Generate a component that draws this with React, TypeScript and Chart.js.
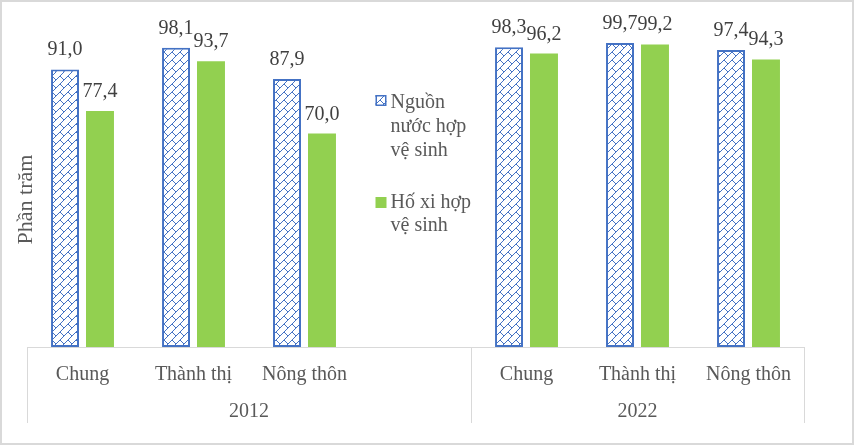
import React, { useEffect, useRef } from "react";
import Chart from "chart.js/auto";

const categories = ["Chung", "Thành thị", "Nông thôn", "", "Chung", "Thành thị", "Nông thôn"];
const years = ["2012", "2022"];
// first and last category index of each year group
const yearGroups = [
  [0, 3],
  [4, 6],
];
const waterValues = [91.0, 98.1, 87.9, null, 98.3, 99.7, 97.4];
const toiletValues = [77.4, 93.7, 70.0, null, 96.2, 99.2, 94.3];
const waterLegend = ["Nguồn", "nước hợp", "vệ sinh"];
const toiletLegend = ["Hố xi hợp", "vệ sinh"];
const yTitle = "Phần trăm";

const BLUE = "#4472C4";
const GREEN = "#92D050";
const FONT = "'Liberation Serif', 'Times New Roman', serif";

function makeHatch(): CanvasPattern | string {
  const c = document.createElement("canvas");
  c.width = 8;
  c.height = 8;
  const g = c.getContext("2d");
  if (!g) return "#fff";
  g.fillStyle = "#fff";
  g.fillRect(0, 0, 8, 8);
  g.fillStyle = BLUE;
  for (let i = 0; i < 8; i++) g.fillRect(i, 7 - i, 1, 1);
  for (let i = 0; i < 4; i++) g.fillRect(4 + i, 4 + i, 1, 1);
  return g.createPattern(c, "repeat") || "#fff";
}

const fmt = (v: number) => v.toFixed(1).replace(".", ",");

const App: React.FC = () => {
  const canvasRef = useRef<HTMLCanvasElement>(null);
  const chartRef = useRef<Chart>();

  useEffect(() => {
    document.body.style.margin = "0";
    const canvas = canvasRef.current;
    if (!canvas) return;
    const ctx = canvas.getContext("2d");
    if (!ctx) return;

    const hatch = makeHatch();

    const decor = {
      id: "decor",
      beforeDraw(chart: Chart) {
        const c = chart.ctx;
        c.save();
        c.fillStyle = "#fff";
        c.fillRect(0, 0, chart.width, chart.height);
        c.restore();
      },
      afterDatasetsDraw(chart: Chart) {
        const c = chart.ctx;
        c.save();
        c.font = `20px ${FONT}`;
        c.fillStyle = "#404040";
        c.textAlign = "center";
        c.textBaseline = "alphabetic";
        chart.data.datasets.forEach((ds, di) => {
          const meta = chart.getDatasetMeta(di);
          meta.data.forEach((el: any, i) => {
            const v = ds.data[i] as number | null;
            if (v == null) return;
            c.fillText(fmt(v), el.x, el.y - 14);
          });
        });
        c.restore();
      },
      afterDraw(chart: Chart) {
        const c = chart.ctx;
        const area = chart.chartArea;
        const xs: any = chart.scales.x;
        const half = (xs.getPixelForValue(1) - xs.getPixelForValue(0)) / 2;
        c.save();

        // group separators and year labels
        c.strokeStyle = "#d9d9d9";
        c.lineWidth = 1;
        c.font = `20px ${FONT}`;
        c.fillStyle = "#595959";
        c.textAlign = "center";
        c.textBaseline = "middle";
        yearGroups.forEach(([a, b], gi) => {
          const x0 = xs.getPixelForValue(a) - half;
          const x1 = xs.getPixelForValue(b) + half;
          [x0, x1].forEach((xx) => {
            const px = Math.round(xx) + 0.5;
            c.beginPath();
            c.moveTo(px, area.bottom);
            c.lineTo(px, area.bottom + 76);
            c.stroke();
          });
          c.fillText(years[gi], (x0 + x1) / 2, area.bottom + 65);
        });

        // y axis title
        c.save();
        c.translate(26, (area.top + area.bottom) / 2 + 5);
        c.rotate(-Math.PI / 2);
        c.font = `22px ${FONT}`;
        c.fillText(yTitle, 0, 0);
        c.restore();

        // legend in the empty slot
        const lx = xs.getPixelForValue(3) - 40;
        const tx = lx + 15;
        c.textAlign = "left";
        c.textBaseline = "alphabetic";
        c.font = `20px ${FONT}`;
        const y1 = area.top + 53;
        c.fillStyle = hatch as any;
        c.fillRect(lx, y1, 11, 11);
        c.strokeStyle = BLUE;
        c.lineWidth = 1.5;
        c.strokeRect(lx + 0.75, y1 + 0.75, 9.5, 9.5);
        c.fillStyle = "#595959";
        waterLegend.forEach((t, i) => c.fillText(t, tx, y1 + 13 + i * 24));

        const y2 = area.top + 155;
        c.fillStyle = GREEN;
        c.fillRect(lx, y2, 11, 11);
        c.fillStyle = "#595959";
        toiletLegend.forEach((t, i) => c.fillText(t, tx, y2 + 11 + i * 23));

        // outer frame
        c.strokeStyle = "#d9d9d9";
        c.lineWidth = 2;
        c.strokeRect(1, 1, chart.width - 2, chart.height - 2);
        c.restore();
      },
    };

    chartRef.current = new Chart(ctx, {
      type: "bar",
      data: {
        labels: categories,
        datasets: [
          {
            label: "Nguồn nước hợp vệ sinh",
            data: waterValues,
            backgroundColor: hatch as any,
            borderColor: BLUE,
            borderWidth: 2,
            borderSkipped: false,
            categoryPercentage: 0.63,
            barPercentage: 0.8,
          },
          {
            label: "Hố xi hợp vệ sinh",
            data: toiletValues,
            backgroundColor: GREEN,
            borderWidth: 0,
            categoryPercentage: 0.63,
            barPercentage: 0.8,
          },
        ],
      },
      options: {
        responsive: false,
        animation: false,
        layout: { padding: { left: 27, right: 50, top: 42, bottom: 42 } },
        plugins: {
          legend: { display: false },
          tooltip: { enabled: false },
        },
        scales: {
          x: {
            grid: { display: false, drawTicks: false },
            border: { display: true, color: "#d9d9d9", width: 1 },
            ticks: {
              color: "#595959",
              font: { family: FONT, size: 20 },
              padding: 16,
              autoSkip: false,
              maxRotation: 0,
            },
          },
          y: { display: false, min: 0, max: 100 },
        },
      },
      plugins: [decor],
    });

    return () => {
      if (chartRef.current) {
        chartRef.current.destroy();
      }
    };
  }, []);

  return <canvas ref={canvasRef} width={854} height={445} />;
};

export default App;
